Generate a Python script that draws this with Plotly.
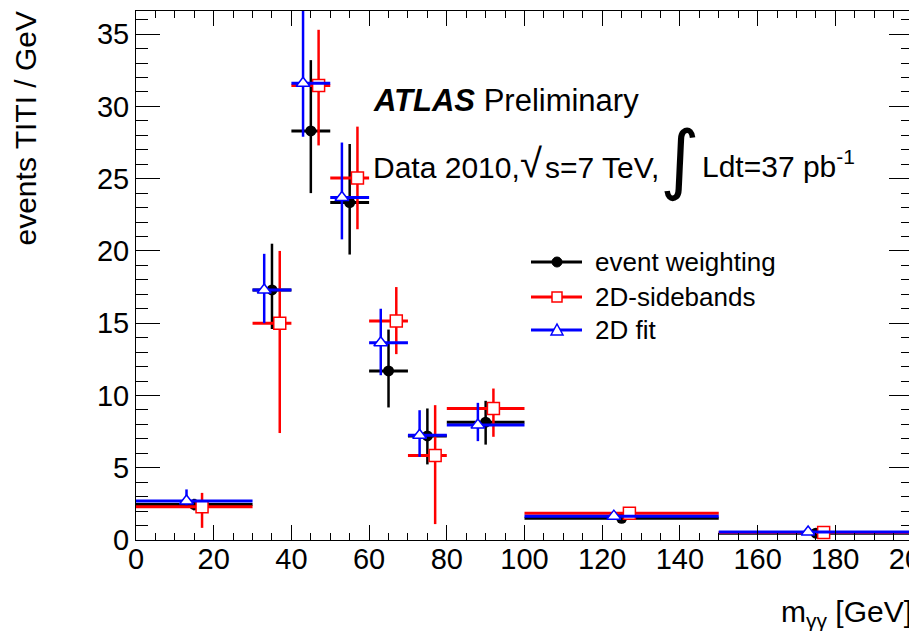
import plotly.graph_objects as go

# ---- data ----
bin_lo = [0, 30, 40, 50, 60, 70, 80, 100, 150]
bin_hi = [30, 40, 50, 60, 70, 80, 100, 150, 200]

ew_val = [2.45, 17.3, 28.3, 23.35, 11.7, 7.2, 8.15, 1.5, 0.47]
ew_up = [0.4, 3.2, 4.9, 4.05, 2.86, 1.9, 1.48, 0.2, 0.1]
ew_dn = [0.4, 2.7, 4.3, 3.6, 2.53, 1.97, 1.55, 0.2, 0.1]

sb_val = [2.3, 15.0, 31.45, 25.05, 15.15, 5.85, 9.1, 1.85, 0.52]
sb_up = [0.96, 5.0, 3.85, 3.55, 2.35, 3.48, 1.38, 0.25, 0.1]
sb_dn = [1.46, 7.6, 4.15, 3.55, 2.29, 4.75, 1.96, 0.25, 0.1]

fit_val = [2.7, 17.3, 31.6, 23.7, 13.65, 7.25, 7.95, 1.65, 0.55]
fit_up = [0.8, 2.5, 6.0, 3.8, 2.35, 1.73, 1.54, 0.15, 0.1]
fit_dn = [0.3, 2.3, 3.7, 2.9, 2.25, 1.5, 1.11, 0.15, 0.1]

series_names = ["event weighting", "2D-sidebands", "2D fit"]

FONT = "Liberation Sans, Arial, Helvetica, sans-serif"

series = [
    dict(name=series_names[0], val=ew_val, up=ew_up, dn=ew_dn, off=0.0, color="#000000",
         marker=dict(symbol="circle", size=11, color="#000000", line=dict(width=0))),
    dict(name=series_names[1], val=sb_val, up=sb_up, dn=sb_dn, off=2.0, color="#ff0000",
         marker=dict(symbol="square", size=12, color="white", line=dict(width=1.5, color="#ff0000"))),
    dict(name=series_names[2], val=fit_val, up=fit_up, dn=fit_dn, off=-2.0, color="#0000ff",
         marker=dict(symbol="triangle-up", size=12, color="white", line=dict(width=1.5, color="#0000ff"))),
]

fig = go.Figure()
for s in series:
    xs = [(lo + hi) / 2 + s["off"] for lo, hi in zip(bin_lo, bin_hi)]
    xp = [hi - x for x, hi in zip(xs, bin_hi)]
    xm = [x - lo for x, lo in zip(xs, bin_lo)]
    fig.add_trace(go.Scatter(
        x=xs, y=s["val"], mode="markers", marker=s["marker"], showlegend=False,
        error_x=dict(type="data", symmetric=False, array=xp, arrayminus=xm,
                     color=s["color"], thickness=3, width=0),
        error_y=dict(type="data", symmetric=False, array=s["up"], arrayminus=s["dn"],
                     color=s["color"], thickness=2.5, width=0),
    ))

axis_common = dict(
    showline=True, linecolor="black", linewidth=1, mirror="allticks",
    ticks="inside", tickcolor="black", tickwidth=1,
    showgrid=False, zeroline=False, automargin=False,
    tickfont=dict(family=FONT, size=29, color="black"),
)
fig.update_xaxes(range=[0, 200], dtick=20, ticklen=15, ticklabelstandoff=-7, ticklabeloverflow="allow",
                 minor=dict(dtick=5, ticklen=7, ticks="inside", tickcolor="black", showgrid=False),
                 **axis_common)
fig.update_yaxes(range=[0, 36.6], dtick=5, ticklen=24,
                 minor=dict(dtick=1, ticklen=12, ticks="inside", tickcolor="black", showgrid=False),
                 **axis_common)

# page body has an 8 px margin: the figure is offset by OFF on screen
W, H = 917, 631
OFF = 8
L, R, T, B = 128, 12, 3, 99
pw, ph = W - L - R, H - T - B

def px(xscreen):
    return (xscreen - OFF - L) / pw

def py(yscreen):
    return (H - B - (yscreen - OFF)) / ph

annotations = [
    dict(text="events TITI / GeV", textangle=-90, x=px(25), y=py(9), xanchor="center", yanchor="top",
         font=dict(family=FONT, size=30, color="black")),
    dict(text="m<sub>γγ</sub> [GeV]", x=px(914), y=py(593), xanchor="right", yanchor="top",
         font=dict(family=FONT, size=30, color="black")),
    dict(text="<b><i>ATLAS</i></b> Preliminary", x=px(371), y=py(101), xanchor="left", yanchor="middle",
         font=dict(family=FONT, size=31, color="black")),
    dict(text="Data 2010,", x=px(371), y=py(167), xanchor="left", yanchor="middle",
         font=dict(family=FONT, size=30, color="black")),
    dict(text="√", x=px(531), y=py(163), xanchor="center", yanchor="middle",
         font=dict(family=FONT, size=40, color="black")),
    dict(text="s=7 TeV,", x=px(543), y=py(167), xanchor="left", yanchor="middle",
         font=dict(family=FONT, size=30, color="black")),
    dict(text="∫", x=px(680), y=py(158), xanchor="center", yanchor="middle",
         font=dict(family="DejaVu Sans", size=76, color="black")),
    dict(text="Ldt=37 pb<sup>-1</sup>", x=px(700), y=py(164), xanchor="left", yanchor="middle",
         font=dict(family=FONT, size=30, color="black")),
]

# manual legend (ROOT style: 50 px line with marker in the middle)
leg_rows = [262, 297, 330]
shapes = []
for s, yr in zip(series, leg_rows):
    shapes.append(dict(type="line", x0=px(531), x1=px(582), y0=py(yr), y1=py(yr),
                       line=dict(color=s["color"], width=3)))
    annotations.append(dict(text=s["name"], x=px(593), y=py(yr), xanchor="left", yanchor="middle",
                            font=dict(family=FONT, size=26, color="black")))
cx = 557
r = 5
shapes.append(dict(type="circle", x0=px(cx - r), x1=px(cx + r), y0=py(leg_rows[0] - r), y1=py(leg_rows[0] + r),
                   fillcolor="black", line=dict(color="black", width=1)))
shapes.append(dict(type="rect", x0=px(cx - r), x1=px(cx + r), y0=py(leg_rows[1] - r), y1=py(leg_rows[1] + r),
                   fillcolor="white", line=dict(color="#ff0000", width=1.5)))
y3 = leg_rows[2]
tri = "M {},{} L {},{} L {},{} Z".format(px(cx - 6), py(y3 + 5), px(cx + 6), py(y3 + 5), px(cx), py(y3 - 6))
shapes.append(dict(type="path", path=tri, fillcolor="white", line=dict(color="#0000ff", width=1.5)))

for a in annotations:
    a.update(xref="paper", yref="paper", showarrow=False)
for sh in shapes:
    sh.update(xref="paper", yref="paper")

fig.update_layout(
    width=W, height=H,
    margin=dict(l=L, r=R, t=T, b=B),
    paper_bgcolor="white", plot_bgcolor="white",
    font=dict(family=FONT, color="black"),
    annotations=annotations,
    shapes=shapes,
    showlegend=False,
)

fig.write_html("out.html")
